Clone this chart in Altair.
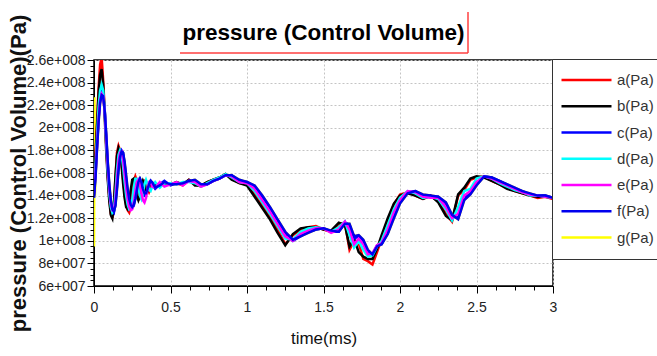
import altair as alt
import pandas as pd

# ---------------- data (pressure in units of 1e8 Pa) ----------------
TIME = [0.00, 0.01, 0.02, 0.03, 0.04, 0.05, 0.06, 0.07, 0.08, 0.09,
        0.10, 0.11, 0.12, 0.13, 0.14, 0.15, 0.16, 0.17, 0.18, 0.19,
        0.20, 0.21, 0.22, 0.23, 0.24, 0.25, 0.26, 0.27, 0.28, 0.29,
        0.30, 0.31, 0.32, 0.33, 0.34, 0.35, 0.36, 0.37, 0.38, 0.40,
        0.43, 0.46, 0.50, 0.54, 0.58, 0.62, 0.66, 0.70, 0.74, 0.78,
        0.82, 0.86, 0.90, 0.95, 1.00, 1.05, 1.10, 1.15, 1.20, 1.25,
        1.30, 1.35, 1.40, 1.45, 1.50, 1.55, 1.60, 1.64, 1.67, 1.70,
        1.73, 1.76, 1.79, 1.82, 1.85, 1.88, 1.92, 1.96, 2.00, 2.05,
        2.10, 2.15, 2.20, 2.25, 2.30, 2.34, 2.38, 2.42, 2.46, 2.50,
        2.55, 2.60, 2.65, 2.70, 2.75, 2.80, 2.85, 2.90, 2.95, 3.00]

A = [1.50, 1.78, 2.05, 2.35, 2.56, 2.62, 2.42, 2.15, 1.85, 1.58,
     1.38, 1.24, 1.20, 1.30, 1.55, 1.78, 1.84, 1.80, 1.70, 1.55,
     1.42, 1.32, 1.27, 1.25, 1.30, 1.42, 1.53, 1.57, 1.53, 1.44,
     1.38, 1.40, 1.48, 1.53, 1.52, 1.46, 1.43, 1.46, 1.51, 1.50,
     1.48, 1.52, 1.50, 1.51, 1.49, 1.54, 1.50, 1.48, 1.52, 1.54,
     1.56, 1.59, 1.55, 1.51, 1.50, 1.42, 1.31, 1.22, 1.10, 0.97,
     1.05, 1.10, 1.12, 1.13, 1.10, 1.08, 1.15, 1.16, 0.92, 1.00,
     0.98, 0.84, 0.82, 0.79, 0.90, 1.02, 1.18, 1.32, 1.41, 1.43,
     1.40, 1.37, 1.40, 1.35, 1.24, 1.17, 1.40, 1.45, 1.54, 1.56,
     1.57, 1.53, 1.50, 1.47, 1.44, 1.42, 1.40, 1.38, 1.39, 1.37]

B = [1.48, 1.74, 2.02, 2.30, 2.47, 2.52, 2.38, 2.10, 1.80, 1.54,
     1.35, 1.23, 1.20, 1.33, 1.56, 1.75, 1.82, 1.78, 1.67, 1.51,
     1.38, 1.30, 1.28, 1.33, 1.45, 1.54, 1.55, 1.49, 1.40, 1.36,
     1.40, 1.48, 1.53, 1.50, 1.45, 1.44, 1.48, 1.51, 1.50, 1.49,
     1.50, 1.51, 1.50, 1.52, 1.50, 1.54, 1.49, 1.49, 1.52, 1.54,
     1.56, 1.59, 1.54, 1.51, 1.49, 1.39, 1.29, 1.19, 1.07, 0.96,
     1.06, 1.11, 1.12, 1.12, 1.10, 1.09, 1.16, 1.14, 0.95, 1.02,
     0.90, 0.86, 0.84, 0.84, 0.93, 1.05, 1.20, 1.33, 1.40, 1.42,
     1.40, 1.37, 1.40, 1.34, 1.22, 1.18, 1.41, 1.47, 1.55, 1.57,
     1.56, 1.53, 1.50, 1.46, 1.44, 1.42, 1.40, 1.39, 1.39, 1.38]

C = [1.40, 1.58, 1.84, 2.08, 2.25, 2.32, 2.30, 2.16, 1.93, 1.68,
     1.48, 1.34, 1.27, 1.25, 1.32, 1.48, 1.65, 1.76, 1.80, 1.78,
     1.68, 1.55, 1.43, 1.35, 1.30, 1.29, 1.31, 1.38, 1.47, 1.54,
     1.55, 1.50, 1.43, 1.40, 1.41, 1.46, 1.51, 1.53, 1.50, 1.46,
     1.50, 1.53, 1.49, 1.51, 1.50, 1.53, 1.53, 1.49, 1.50, 1.53,
     1.55, 1.58, 1.58, 1.53, 1.52, 1.48, 1.39, 1.29, 1.18, 1.07,
     1.00, 1.04, 1.08, 1.10, 1.11, 1.08, 1.08, 1.16, 1.14, 1.02,
     1.04, 1.00, 0.90, 0.88, 0.96, 0.97, 1.07, 1.22, 1.34, 1.43,
     1.44, 1.40, 1.39, 1.39, 1.33, 1.22, 1.20, 1.38, 1.42, 1.50,
     1.57, 1.56, 1.53, 1.50, 1.46, 1.44, 1.41, 1.40, 1.40, 1.38]

D = [1.45, 1.65, 1.92, 2.18, 2.33, 2.38, 2.33, 2.15, 1.88, 1.62,
     1.42, 1.30, 1.25, 1.27, 1.42, 1.62, 1.76, 1.80, 1.77, 1.66,
     1.52, 1.40, 1.32, 1.28, 1.29, 1.36, 1.47, 1.55, 1.55, 1.48,
     1.40, 1.37, 1.42, 1.50, 1.54, 1.50, 1.45, 1.44, 1.48, 1.52,
     1.47, 1.51, 1.51, 1.50, 1.52, 1.52, 1.51, 1.48, 1.51, 1.54,
     1.56, 1.59, 1.56, 1.52, 1.51, 1.44, 1.34, 1.24, 1.13, 1.02,
     1.01, 1.08, 1.11, 1.12, 1.11, 1.08, 1.12, 1.17, 1.05, 0.94,
     1.00, 0.92, 0.86, 0.87, 0.95, 1.00, 1.14, 1.28, 1.38, 1.44,
     1.42, 1.38, 1.39, 1.37, 1.28, 1.18, 1.30, 1.44, 1.46, 1.55,
     1.57, 1.55, 1.51, 1.48, 1.45, 1.43, 1.40, 1.40, 1.39, 1.38]

E = [1.42, 1.60, 1.85, 2.08, 2.24, 2.30, 2.28, 2.14, 1.90, 1.66,
     1.46, 1.33, 1.27, 1.27, 1.36, 1.54, 1.70, 1.78, 1.79, 1.72,
     1.60, 1.47, 1.37, 1.30, 1.27, 1.28, 1.34, 1.44, 1.52, 1.54,
     1.50, 1.42, 1.36, 1.34, 1.38, 1.46, 1.52, 1.52, 1.48, 1.47,
     1.52, 1.48, 1.50, 1.52, 1.49, 1.53, 1.52, 1.48, 1.50, 1.53,
     1.55, 1.58, 1.57, 1.52, 1.51, 1.46, 1.36, 1.26, 1.15, 1.04,
     1.00, 1.06, 1.09, 1.11, 1.11, 1.07, 1.10, 1.17, 1.10, 0.97,
     1.02, 0.97, 0.88, 0.89, 0.96, 0.98, 1.10, 1.25, 1.36, 1.44,
     1.43, 1.39, 1.38, 1.38, 1.30, 1.20, 1.24, 1.40, 1.44, 1.52,
     1.57, 1.55, 1.52, 1.49, 1.46, 1.43, 1.41, 1.40, 1.39, 1.38]

F = [1.38, 1.56, 1.82, 2.05, 2.22, 2.29, 2.28, 2.15, 1.94, 1.70,
     1.50, 1.36, 1.28, 1.26, 1.31, 1.45, 1.62, 1.74, 1.79, 1.78,
     1.70, 1.58, 1.46, 1.37, 1.32, 1.30, 1.32, 1.37, 1.45, 1.52,
     1.55, 1.52, 1.46, 1.42, 1.42, 1.46, 1.50, 1.53, 1.52, 1.47,
     1.49, 1.52, 1.50, 1.50, 1.51, 1.53, 1.54, 1.50, 1.50, 1.53,
     1.55, 1.58, 1.58, 1.54, 1.52, 1.49, 1.40, 1.30, 1.19, 1.08,
     1.01, 1.04, 1.07, 1.10, 1.11, 1.09, 1.08, 1.15, 1.15, 1.04,
     1.05, 1.01, 0.92, 0.88, 0.95, 0.97, 1.06, 1.20, 1.33, 1.42,
     1.44, 1.41, 1.40, 1.39, 1.34, 1.23, 1.19, 1.36, 1.41, 1.49,
     1.57, 1.56, 1.53, 1.50, 1.47, 1.44, 1.42, 1.40, 1.40, 1.38]

# g is visible only as the spike at t = 0; afterwards it lies hidden under f
G_TIME = [0.0, 0.003, 0.006] + TIME[1:]
G = [0.95, 2.27, 1.40] + F[1:]

SERIES = ["a(Pa)", "b(Pa)", "c(Pa)", "d(Pa)", "e(Pa)", "f(Pa)", "g(Pa)"]
COLORS = ["#ff0000", "#000000", "#0000ff", "#00ffff", "#ff00ff", "#0000ee", "#ffff00"]
DRAW_ORDER = ["g(Pa)", "a(Pa)", "b(Pa)", "c(Pa)", "d(Pa)", "e(Pa)", "f(Pa)"]

TITLE = "pressure (Control Volume)"
Y_TITLE = "pressure (Control Volume)(Pa)"
X_TITLE = "time(ms)"

X_TICKS = [0, 0.125, 0.25, 0.375, 0.5, 0.625, 0.75, 0.875, 1.0, 1.125, 1.25, 1.375,
           1.5, 1.625, 1.75, 1.875, 2.0, 2.125, 2.25, 2.375, 2.5, 2.625, 2.75, 2.875, 3.0]
Y_TICKS = list(range(60000000, 260000001, 5000000))

series_data = {
    "a(Pa)": (TIME, A), "b(Pa)": (TIME, B), "c(Pa)": (TIME, C), "d(Pa)": (TIME, D),
    "e(Pa)": (TIME, E), "f(Pa)": (TIME, F), "g(Pa)": (G_TIME, G),
}
rows = []
for name in SERIES:
    ts, vs = series_data[name]
    for t, v in zip(ts, vs):
        rows.append({"time": t, "pressure": round(v * 1e8), "series": name})
df = pd.DataFrame(rows)

LABEL_FONT = "Liberation Sans Narrow, Liberation Sans, Arial, sans-serif"
TITLE_FONT = "Liberation Sans, Arial, sans-serif"

x_major = "datum.value % 0.5 == 0"
y_major = "datum.value % 20000000 == 0"

x_axis = alt.Axis(
    values=X_TICKS,
    labelExpr=f"{x_major} ? format(datum.value, '~g') : ''",
    tickSize={"condition": {"test": x_major, "value": 7}, "value": 4},
    gridOpacity={"condition": {"test": x_major, "value": 1}, "value": 0},
    labelFlush=False, labelOverlap=False, labelPadding=7,
    labelFont=LABEL_FONT, labelFontSize=14, labelColor="#222222",
    title=X_TITLE, titleFont=TITLE_FONT, titleFontSize=17, titleFontWeight="normal",
    titleColor="#111111", titleBaseline="alphabetic", titleY=57, titleX=229.5,
)
y_axis = alt.Axis(
    values=Y_TICKS,
    labelExpr=f"{y_major} ? replace(format(datum.value, '~e'), 'e+', 'e+00') : ''",
    tickSize={"condition": {"test": y_major, "value": 7}, "value": 4},
    gridOpacity={"condition": {"test": y_major, "value": 1}, "value": 0},
    labelFlush=False, labelOverlap=False, labelPadding=2,
    labelFont=LABEL_FONT, labelFontSize=14, labelColor="#222222",
    title=Y_TITLE, titleFont=TITLE_FONT, titleFontSize=22, titleFontWeight="bold",
    titleColor="#111111", titleAngle=270, titleBaseline="middle", titleAlign="center",
    titleX=-76, titleY=113,
)

legend = alt.Legend(
    title=None, orient="none", legendX=458, legendY=-1, direction="vertical",
    symbolType="stroke", symbolSize=2500, symbolStrokeWidth=2.5,
    clipHeight=26, rowPadding=0.25, padding=8,
    strokeColor="#333333", fillColor="white",
    labelFont=LABEL_FONT, labelFontSize=15, labelColor="#333333", labelOffset=4,
)

base = alt.Chart(df).mark_line(strokeWidth=2.5, clip=True).encode(
    x=alt.X("time:Q", scale=alt.Scale(domain=[0, 3], nice=False, zero=False), axis=x_axis),
    y=alt.Y("pressure:Q", scale=alt.Scale(domain=[60000000, 260000000], nice=False, zero=False), axis=y_axis),
    color=alt.Color("series:N", scale=alt.Scale(domain=SERIES, range=COLORS), legend=legend),
)
lines = [base.transform_filter(alt.datum.series == s) for s in DRAW_ORDER]

title_text = alt.Chart(pd.DataFrame({"label": [TITLE]})).mark_text(
    font=TITLE_FONT, fontSize=22.5, fontWeight="bold", align="center",
    baseline="alphabetic", color="#000000",
).encode(x=alt.value(229.5), y=alt.value(-20), text="label:N")

deco = pd.DataFrame({"k": [0]})
underline = alt.Chart(deco).mark_rule(color="#ff4040", strokeWidth=1.5).encode(
    x=alt.value(86), x2=alt.value(374), y=alt.value(-7))
sideline = alt.Chart(deco).mark_rule(color="#ff4040", strokeWidth=1.5).encode(
    x=alt.value(374), y=alt.value(-48), y2=alt.value(-7))

chart = alt.layer(*lines, title_text, underline, sideline).properties(
    width=459, height=226,
    autosize=alt.AutoSizeParams(type="none"),
    padding={"left": 94, "top": 60, "right": 104, "bottom": 70},
).configure_view(
    stroke="black", strokeWidth=1.5
).configure_axis(
    domainColor="black", tickColor="black", tickWidth=1,
    gridColor="#c4c4c4", gridDash=[2, 2], gridWidth=1,
)

chart.save("out.html", embed_options={"renderer": "svg", "actions": False})
